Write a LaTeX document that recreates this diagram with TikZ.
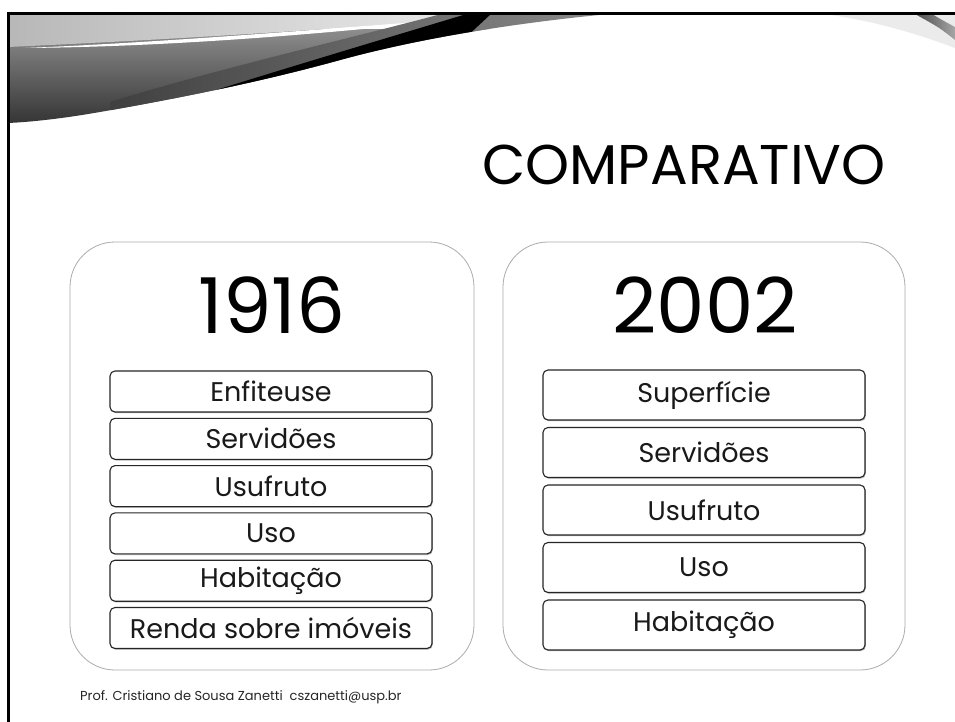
\documentclass[tikz,border=0pt]{standalone}
\usepackage{fontspec}
\setmainfont{Poppins}
\usetikzlibrary{shadows}
\begin{document}
\begin{tikzpicture}[x=1pt,y=-1pt,
  panel/.style={draw=gray!65, line width=0.8pt, rounded corners=45pt, fill=white, inner sep=0pt},
  itembox/.style={draw=black!85, line width=1.1pt, rounded corners=5pt, fill=white, inner sep=0pt,
     minimum width=322pt, text=black!90,
     drop shadow={shadow xshift=0.8pt, shadow yshift=-1.2pt, fill=black!35, opacity=0.8}},
  leftbox/.style={itembox, minimum height=41pt, font=\fontsize{27}{29}\selectfont},
  rightbox/.style={itembox, minimum height=50pt, font=\fontsize{27}{29}\selectfont},
  year/.style={inner sep=0pt, font=\fontsize{77}{80}\selectfont},
  titletext/.style={inner sep=0pt, font=\fontsize{56}{60}\selectfont},
  foot/.style={inner sep=0pt, font=\fontsize{13}{15}\selectfont, text=black!85}
]
\useasboundingbox (0,0) rectangle (955,722);
\fill[white] (0,0) rectangle (955,722);

% top-left swoosh
\begin{scope}
  \clip (8,13) -- (620,13) .. controls (520,22) and (420,38) .. (340,60)
        .. controls (260,82) and (180,98) .. (100,112)
        .. controls (60,119) and (30,122) .. (8,123) -- cycle;
  % lower body
  \shade[top color=black!45, bottom color=black!80] (8,30) rectangle (620,125);
  % upper light strip above the streak
  \shade[left color=black!28, right color=black!4]
     (8,13) -- (560,13) .. controls (420,22) and (250,36) .. (8,47) -- cycle;
  % white streak
  \fill[white] (25,48) .. controls (150,43) and (300,31) .. (470,18)
        .. controls (300,37) and (150,47) .. (25,48) -- cycle;
  % dark band along the lower edge
  \shade[left color=black!75, middle color=black, right color=black!45]
     (110,102) .. controls (220,68) and (360,36) .. (445,13) -- (620,13) -- (620,140) -- (110,140) -- cycle;
  \fill[black] (200,95) .. controls (280,70) and (380,40) .. (470,13) -- (492,13)
     -- (420,80) -- (200,140) -- cycle;
\end{scope}

% top-right swoosh
\fill[black!8] (825,14) -- (955,14) -- (955,48) .. controls (920,35) and (880,22) .. (825,14) -- cycle;
\shade[left color=black!70, right color=black!35] (915,14) -- (932,14) .. controls (942,20) .. (955,27) -- (955,40) .. controls (940,28) .. (915,14) -- cycle;

% frame
\draw[line width=2.6pt] (8.7,722) -- (8.7,13.8) -- (955,13.8);

% title
\node[titletext, anchor=east] (title) at (886,165) {COMPARATIVO};

% panels
\node[panel, minimum width=404pt, minimum height=428pt] (lp) at (272,456) {};
\node[panel, minimum width=402pt, minimum height=428pt] (rp) at (704,456) {};

\node[year] (y1) at (272,305) {1916};
\node[year] (y2) at (705,305) {2002};

% left boxes
\node[leftbox] (l1) at (271,391.5) {Enfiteuse};
\node[leftbox] (l2) at (271,438.8) {Servidões};
\node[leftbox] (l3) at (271,486.1) {Usufruto};
\node[leftbox] (l4) at (271,533.4) {Uso};
\node[leftbox] (l5) at (271,580.7) {Habitação};
\node[leftbox] (l6) at (271,628) {Renda sobre imóveis};

% right boxes
\node[rightbox] (r1) at (704,395) {Superfície};
\node[rightbox] (r2) at (704,452.5) {Servidões};
\node[rightbox] (r3) at (704,510) {Usufruto};
\node[rightbox] (r4) at (704,567.5) {Uso};
\node[rightbox] (r5) at (704,625) {Habitação};

% footer
\node[foot, anchor=west] (ft) at (80,697) {Prof. Cristiano de Sousa Zanetti\ \ cszanetti@usp.br};
\end{tikzpicture}
\end{document}
